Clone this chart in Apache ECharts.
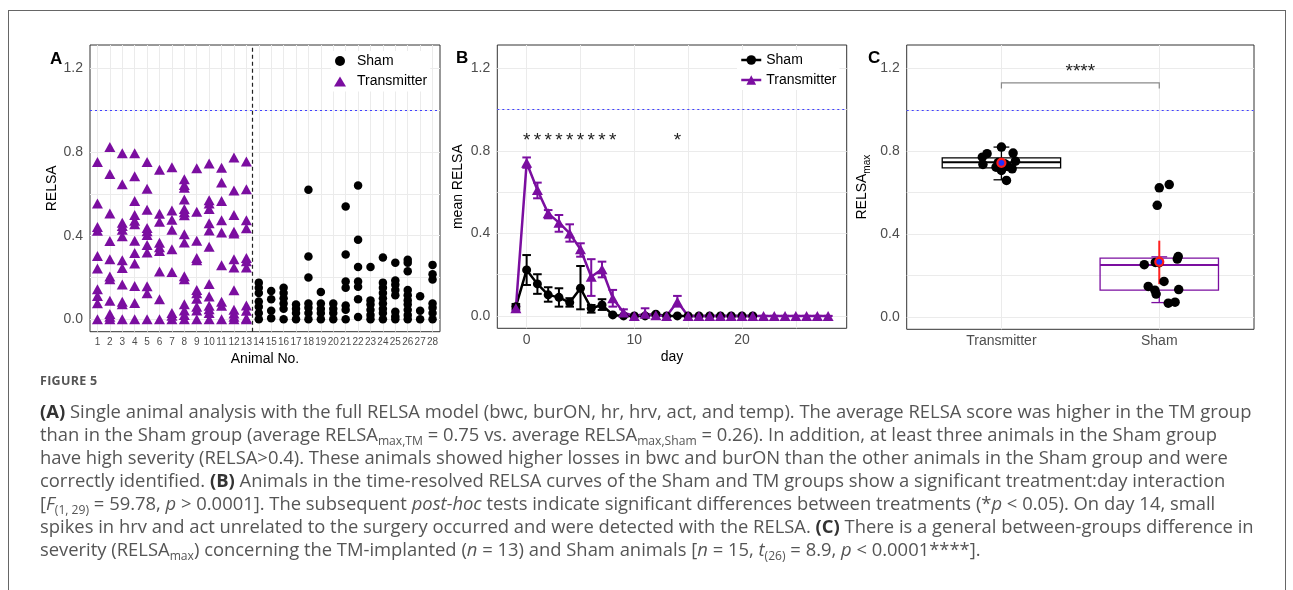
<!DOCTYPE html>
<html>
<head>
<meta charset="utf-8">
<script src="https://cdn.jsdelivr.net/npm/echarts@6/dist/echarts.min.js"></script>
<style>
  body { margin: 0; background: #fff; }
  #wrap { position: relative; width: 1293px; height: 590px; overflow: hidden; }
  #frame { position: absolute; left: 8px; top: 10px; width: 1276px; height: 640px; border: 1px solid #666; }
  #chart { position: absolute; left: 0; top: 0; width: 1293px; height: 590px; }
  #caption { position: absolute; left: 40px; top: 371px; font-family: "Open Sans", sans-serif; color: #555; font-size: 18.4px; line-height: 23px; white-space: nowrap; }
  #caption .fig { font-size: 12.5px; font-weight: bold; color: #555; letter-spacing: 0.3px; line-height: 20px; margin-bottom: 8px; }
  #caption b { color: #333; font-weight: bold; }
  #caption sub { font-size: 0.66em; vertical-align: -0.3em; line-height: 0; }
</style>
</head>
<body>
<div id="wrap">
  <div id="frame"></div>
  <div id="chart"></div>
  <div id="caption">
    <div class="fig">FIGURE 5</div>
    <div><b>(A)</b> Single animal analysis with the full RELSA model (bwc, burON, hr, hrv, act, and temp). The average RELSA score was higher in the TM group</div>
    <div>than in the Sham group (average RELSA<sub>max,TM</sub> = 0.75 vs. average RELSA<sub>max,Sham</sub> = 0.26). In addition, at least three animals in the Sham group</div>
    <div>have high severity (RELSA&gt;0.4). These animals showed higher losses in bwc and burON than the other animals in the Sham group and were</div>
    <div>correctly identified. <b>(B)</b> Animals in the time-resolved RELSA curves of the Sham and TM groups show a significant treatment:day interaction</div>
    <div>[<i>F</i><sub>(1, 29)</sub> = 59.78, <i>p</i> &gt; 0.0001]. The subsequent <i>post-hoc</i> tests indicate significant differences between treatments (*<i>p</i> &lt; 0.05). On day 14, small</div>
    <div>spikes in hrv and act unrelated to the surgery occurred and were detected with the RELSA. <b>(C)</b> There is a general between-groups difference in</div>
    <div>severity (RELSA<sub>max</sub>) concerning the TM-implanted (<i>n</i> = 13) and Sham animals [<i>n</i> = 15, <i>t</i><sub>(26)</sub> = 8.9, <i>p</i> &lt; 0.0001****].</div>
  </div>
</div>
<script>
// ---- panel A: single animal RELSA values ----
var tmAnimals = [1, 2, 3, 4, 5, 6, 7, 8, 9, 10, 11, 12, 13];
var tmRelsa = [
  [0.753, 0.554, 0.442, 0.423, 0.302, 0.243, 0.143, 0.111, 0.076, 0],
  [0.825, 0.695, 0.506, 0.374, 0.287, 0.204, 0.191, 0.088, 0.025, 0.012, 0],
  [0.795, 0.646, 0.462, 0.446, 0.428, 0.397, 0.282, 0.245, 0.166, 0.084, 0.072, 0],
  [0.795, 0.685, 0.566, 0.499, 0.471, 0.455, 0.376, 0.317, 0.267, 0.159, 0.078, 0],
  [0.753, 0.625, 0.524, 0.437, 0.421, 0.403, 0.355, 0.319, 0.158, 0.124, 0],
  [0.715, 0.505, 0.466, 0.366, 0.345, 0.326, 0.228, 0.096, 0],
  [0.727, 0.521, 0.476, 0.428, 0.335, 0.226, 0.029, 0.016, 0],
  [0.670, 0.642, 0.629, 0.573, 0.528, 0.512, 0.498, 0.407, 0.367, 0.205, 0.191, 0.072, 0.041, 0.020, 0],
  [0.723, 0.514, 0.375, 0.293, 0.282, 0.140, 0.124, 0.098, 0.060, 0.042, 0],
  [0.745, 0.570, 0.554, 0.528, 0.459, 0.425, 0.347, 0.168, 0.108, 0.064, 0.048, 0.030, 0],
  [0.725, 0.654, 0.566, 0.474, 0.415, 0.258, 0.084, 0.064, 0],
  [0.774, 0.616, 0.499, 0.419, 0.410, 0.287, 0.247, 0.138, 0.045, 0.027, 0.012, 0],
  [0.755, 0.622, 0.474, 0.435, 0.293, 0.277, 0.247, 0.065, 0.040, 0.005, 0]
];
var shamAnimals = [14, 15, 16, 17, 18, 19, 20, 21, 22, 23, 24, 25, 26, 27, 28];
var shamRelsa = [
  [0.175, 0.150, 0.125, 0.085, 0.060, 0.030, 0],
  [0.135, 0.095, 0.040, 0.005],
  [0.150, 0.125, 0.100, 0.075, 0.050, 0],
  [0.070, 0.050, 0.030, 0],
  [0.620, 0.300, 0.200, 0.075, 0.055, 0.030, 0],
  [0.130, 0.075, 0.050, 0.030, 0],
  [0.075, 0.050, 0.030, 0],
  [0.540, 0.310, 0.180, 0.150, 0.065, 0.045, 0],
  [0.640, 0.380, 0.250, 0.180, 0.155, 0.095, 0.010],
  [0.250, 0.090, 0.070, 0.045, 0.020, 0],
  [0.295, 0.175, 0.150, 0.125, 0.100, 0.075, 0.050, 0.030, 0],
  [0.270, 0.185, 0.165, 0.140, 0.115, 0.035, 0.013, 0],
  [0.285, 0.270, 0.230, 0.140, 0.115, 0.090, 0.070, 0.045, 0.020, 0],
  [0.110, 0.040, 0],
  [0.260, 0.215, 0.190, 0.075, 0.055, 0.030, 0]
];
var animalTicks = [1, 2, 3, 4, 5, 6, 7, 8, 9, 10, 11, 12, 13, 14, 15, 16, 17, 18, 19, 20, 21, 22, 23, 24, 25, 26, 27, 28];

// ---- panel B: mean RELSA per day ----
var shamDays = [-1, 0, 1, 2, 3, 4, 5, 6, 7, 8, 9, 10, 11, 12, 13, 14, 15, 16, 17, 18, 19, 20, 21];
var shamMean = [0.045, 0.223, 0.155, 0.102, 0.090, 0.065, 0.134, 0.037, 0.053, 0.005, 0, 0, 0, 0.008, 0, 0, 0, 0, 0, 0, 0, 0, 0];
var shamLo   = [0.032, 0.150, 0.107, 0.069, 0.045, 0.045, 0.032, 0.016, 0.029, 0.002, 0, 0, 0, 0.003, 0, 0, 0, 0, 0, 0, 0, 0, 0];
var shamHi   = [0.058, 0.295, 0.202, 0.139, 0.134, 0.086, 0.242, 0.053, 0.081, 0.010, 0, 0, 0, 0.013, 0, 0, 0, 0, 0, 0, 0, 0, 0];
var tmDays = [-1, 0, 1, 2, 3, 4, 5, 6, 7, 8, 9, 10, 11, 12, 13, 14, 15, 16, 17, 18, 19, 20, 21, 22, 23, 24, 25, 26, 27, 28];
var tmMean = [0.037, 0.742, 0.610, 0.497, 0.452, 0.400, 0.323, 0.190, 0.226, 0.086, 0.016, 0, 0.010, 0.003, 0, 0.069, 0, 0, 0, 0, 0, 0, 0, 0, 0, 0, 0, 0, 0, 0];
var tmLo   = [0.027, 0.718, 0.570, 0.473, 0.408, 0.360, 0.287, 0.097, 0.187, 0.045, 0.002, 0, 0, 0, 0, 0.045, 0, 0, 0, 0, 0, 0, 0, 0, 0, 0, 0, 0, 0, 0];
var tmHi   = [0.047, 0.768, 0.646, 0.513, 0.489, 0.444, 0.352, 0.275, 0.263, 0.126, 0.032, 0, 0.037, 0.006, 0, 0.097, 0, 0, 0, 0, 0, 0, 0, 0, 0, 0, 0, 0, 0, 0];
var sigDays = [0, 1, 2, 3, 4, 5, 6, 7, 8, 14];
var dayLabels = [0, 10, 20];
var dayGrid = [0, 5, 10, 15, 20, 25];

// ---- panel C: RELSA max ----
var groups = ['Transmitter', 'Sham'];
var groupPos = [1, 2];
var boxQ1 = [0.720, 0.129];
var boxMed = [0.747, 0.250];
var boxQ3 = [0.768, 0.284];
var whiskLo = [0.662, 0.069];
var whiskHi = [0.820, 0.290];
var meanVal = [0.744, 0.266];
var meanLo = [0.722, 0.158];
var meanHi = [0.768, 0.368];
var tmMax = [[1.0, 0.82], [0.909, 0.788], [1.074, 0.791], [0.879, 0.771], [0.883, 0.736], [0.966, 0.723], [1.042, 0.726],
  [1.089, 0.752], [1.068, 0.715], [1.0, 0.707], [1.032, 0.659], [0.98, 0.745], [1.02, 0.74]];
var shamMax = [[2.0, 0.623], [2.063, 0.639], [1.987, 0.539], [2.12, 0.291], [2.114, 0.279], [1.905, 0.252], [1.975, 0.263],
  [2.0, 0.262], [2.03, 0.171], [1.93, 0.147], [1.972, 0.129], [1.98, 0.110], [2.123, 0.132], [2.057, 0.066], [2.1, 0.071]];
var bracket = [1, 2, 1.130, 1.103];

var yLabels = [0, 0.4, 0.8, 1.2];
var yGrid = [0, 0.2, 0.4, 0.6, 0.8, 1.0, 1.2];
var refLine = 1.0;

var PURPLE = '#7b0ea0';
var GRIDC = '#ebebeb';
var FONT = 'Liberation Sans';

var chart = echarts.init(document.getElementById('chart'));

var tmPts = [];
tmAnimals.forEach(function (a, i) { tmRelsa[i].forEach(function (v) { tmPts.push([a, v]); }); });
var shamPts = [];
shamAnimals.forEach(function (a, i) { shamRelsa[i].forEach(function (v) { shamPts.push([a, v]); }); });

function pairs(xs, ys) { return xs.map(function (x, i) { return [x, ys[i]]; }); }

function yAxis(idx, name, gap) {
  return {
    type: 'value', gridIndex: idx, min: -0.06, max: 1.313,
    name: name, nameLocation: 'middle', nameGap: gap,
    nameTextStyle: { color: '#000', fontSize: 14, fontFamily: FONT,
      rich: { m: { fontSize: 14, fontFamily: FONT, color: '#000', verticalAlign: 'top', lineHeight: 18 },
              s: { fontSize: 10, fontFamily: FONT, color: '#000', verticalAlign: 'bottom', lineHeight: 18 } } },
    axisLine: { show: false },
    axisTick: { show: false, customValues: yGrid },
    axisLabel: { customValues: yLabels, color: '#4d4d4d', fontSize: 14, fontFamily: FONT, margin: 7,
      formatter: function (v) { return v.toFixed(1); } },
    splitLine: { show: true, lineStyle: { color: GRIDC, width: 1 } }
  };
}

function errorBars(idx, days, lo, hi, color, cap) {
  return {
    type: 'custom', xAxisIndex: idx, yAxisIndex: idx, silent: true,
    data: days.map(function (d, i) { return [d, lo[i], hi[i]]; }),
    encode: { x: 0, y: [1, 2] },
    renderItem: function (params, api) {
      var x = api.value(0);
      var t = api.coord([x, api.value(2)]);
      var b = api.coord([x, api.value(1)]);
      var h = api.size([cap, 0])[0] / 2;
      var st = { stroke: color, lineWidth: 2 };
      return { type: 'group', children: [
        { type: 'line', shape: { x1: t[0], y1: t[1], x2: b[0], y2: b[1] }, style: st },
        { type: 'line', shape: { x1: t[0] - h, y1: t[1], x2: t[0] + h, y2: t[1] }, style: st },
        { type: 'line', shape: { x1: b[0] - h, y1: b[1], x2: b[0] + h, y2: b[1] }, style: st }
      ] };
    }
  };
}

function refMark() {
  return { silent: true, symbol: 'none', label: { show: false },
    lineStyle: { color: '#4040ff', type: [2, 3], width: 1.2 }, data: [{ yAxis: refLine }] };
}

var option = {
  animation: false,
  textStyle: { fontFamily: FONT },
  title: [
    { text: 'A', left: 45, top: 46, textStyle: { fontSize: 17, fontWeight: 'bold', color: '#000', fontFamily: FONT } },
    { text: 'B', left: 451, top: 45, textStyle: { fontSize: 17, fontWeight: 'bold', color: '#000', fontFamily: FONT } },
    { text: 'C', left: 863, top: 45, textStyle: { fontSize: 17, fontWeight: 'bold', color: '#000', fontFamily: FONT } }
  ],
  legend: [
    { data: ['Sham', 'Transmitter'], orient: 'vertical', left: 331, top: 51, itemWidth: 12, itemHeight: 10, itemGap: 6.6,
      padding: 3, backgroundColor: '#fff', selectedMode: false,
      textStyle: { fontSize: 14, color: '#000', fontFamily: FONT, padding: [0, 0, 0, 6] } },
    { data: ['ShamB', 'TransmitterB'], orient: 'vertical', left: 737, top: 50, itemWidth: 20, itemHeight: 12, itemGap: 6,
      padding: 3, backgroundColor: '#fff', selectedMode: false,
      lineStyle: { width: 2.5 },
      formatter: function (n) { return n.replace(/B$/, ''); },
      textStyle: { fontSize: 14, color: '#000', fontFamily: FONT } }
  ],
  grid: [
    { left: 90, top: 45, width: 350, height: 286.7, show: true, borderColor: '#333', borderWidth: 1 },
    { left: 497.3, top: 45, width: 349.4, height: 283.3, show: true, borderColor: '#333', borderWidth: 1 },
    { left: 906.7, top: 45, width: 347.3, height: 284.3, show: true, borderColor: '#333', borderWidth: 1 }
  ],
  xAxis: [
    { type: 'value', gridIndex: 0, min: 0.4, max: 28.6,
      name: 'Animal No.', nameLocation: 'middle', nameGap: 20,
      nameTextStyle: { color: '#000', fontSize: 14, fontFamily: FONT },
      axisLine: { show: false },
      axisTick: { show: false, customValues: animalTicks },
      axisLabel: { customValues: animalTicks, color: '#4d4d4d', fontSize: 10, fontFamily: FONT, margin: 6 },
      splitLine: { show: true, lineStyle: { color: GRIDC, width: 1 } } },
    { type: 'value', gridIndex: 1, min: -2.725, max: 29.725,
      name: 'day', nameLocation: 'middle', nameGap: 22,
      nameTextStyle: { color: '#000', fontSize: 14, fontFamily: FONT },
      axisLine: { show: false },
      axisTick: { show: false, customValues: dayGrid },
      axisLabel: { customValues: dayLabels, color: '#4d4d4d', fontSize: 14, fontFamily: FONT, margin: 5 },
      splitLine: { show: true, lineStyle: { color: GRIDC, width: 1 } } },
    { type: 'value', gridIndex: 2, min: 0.4, max: 2.6,
      axisLine: { show: false },
      axisTick: { show: false, customValues: groupPos },
      axisLabel: { customValues: groupPos, color: '#4d4d4d', fontSize: 14, fontFamily: FONT, margin: 5,
        formatter: function (v) { return groups[Math.round(v) - 1]; } },
      splitLine: { show: true, lineStyle: { color: GRIDC, width: 1 } } }
  ],
  yAxis: [
    yAxis(0, 'RELSA', 29),
    yAxis(1, 'mean RELSA', 32),
    yAxis(2, '{m|RELSA}{s|max}', 34)
  ],
  series: [
    // A
    { type: 'scatter', name: 'Sham', xAxisIndex: 0, yAxisIndex: 0, symbol: 'circle', symbolSize: 8.5,
      itemStyle: { color: '#000', opacity: 1 }, data: shamPts,
      markLine: { silent: true, symbol: 'none', label: { show: false },
        lineStyle: { color: '#222', type: [4, 3], width: 1.2 }, data: [{ xAxis: 13.5 }] } },
    { type: 'scatter', name: 'Transmitter', xAxisIndex: 0, yAxisIndex: 0, symbol: 'triangle', symbolSize: [11, 10],
      itemStyle: { color: PURPLE, opacity: 1 }, data: tmPts, markLine: refMark() },
    // B
    errorBars(1, shamDays, shamLo, shamHi, '#000', 0.8),
    { type: 'line', name: 'ShamB', xAxisIndex: 1, yAxisIndex: 1, symbol: 'circle', symbolSize: 9,
      lineStyle: { color: '#000', width: 2.5 }, itemStyle: { color: '#000' }, data: pairs(shamDays, shamMean),
      markLine: refMark() },
    errorBars(1, tmDays, tmLo, tmHi, PURPLE, 0.8),
    { type: 'line', name: 'TransmitterB', xAxisIndex: 1, yAxisIndex: 1, symbol: 'triangle', symbolSize: [11, 10],
      lineStyle: { color: PURPLE, width: 2.5 }, itemStyle: { color: PURPLE }, data: pairs(tmDays, tmMean) },
    { type: 'custom', xAxisIndex: 1, yAxisIndex: 1, silent: true,
      data: sigDays.map(function (d) { return [d, 0.85]; }),
      renderItem: function (params, api) {
        var p = api.coord([api.value(0), api.value(1)]);
        return { type: 'text', x: p[0], y: p[1],
          style: { text: '*', fontSize: 19, fontFamily: FONT, fill: '#222', align: 'center', verticalAlign: 'middle' } };
      } },
    // C
    { type: 'custom', xAxisIndex: 2, yAxisIndex: 2, silent: true,
      data: groupPos.map(function (p, i) { return [p, boxQ1[i], boxMed[i], boxQ3[i], whiskLo[i], whiskHi[i], i]; }),
      renderItem: function (params, api) {
        var x = api.value(0);
        var col = api.value(6) === 0 ? '#000' : PURPLE;
        var hw = api.size([0.75, 0])[0] / 2;
        var cw = api.size([0.1, 0])[0] / 2;
        var q1 = api.coord([x, api.value(1)]), md = api.coord([x, api.value(2)]), q3 = api.coord([x, api.value(3)]);
        var lo = api.coord([x, api.value(4)]), hi = api.coord([x, api.value(5)]);
        var st = { stroke: col, lineWidth: 1.3, fill: null };
        return { type: 'group', children: [
          { type: 'line', shape: { x1: q3[0], y1: q3[1], x2: hi[0], y2: hi[1] }, style: st },
          { type: 'line', shape: { x1: q1[0], y1: q1[1], x2: lo[0], y2: lo[1] }, style: st },
          { type: 'line', shape: { x1: hi[0] - cw, y1: hi[1], x2: hi[0] + cw, y2: hi[1] }, style: st },
          { type: 'line', shape: { x1: lo[0] - cw, y1: lo[1], x2: lo[0] + cw, y2: lo[1] }, style: st },
          { type: 'rect', shape: { x: q3[0] - hw, y: q3[1], width: hw * 2, height: q1[1] - q3[1] }, style: st },
          { type: 'line', shape: { x1: md[0] - hw, y1: md[1], x2: md[0] + hw, y2: md[1] }, style: { stroke: col, lineWidth: 2 } }
        ] };
      } },
    { type: 'scatter', xAxisIndex: 2, yAxisIndex: 2, symbol: 'circle', symbolSize: 9.5, silent: true,
      itemStyle: { color: '#000', opacity: 1 }, data: tmMax.concat(shamMax), markLine: refMark() },
    errorBars(2, groupPos, meanLo, meanHi, '#ff2020', 0),
    { type: 'scatter', xAxisIndex: 2, yAxisIndex: 2, symbol: 'circle', symbolSize: 8, silent: true,
      itemStyle: { color: '#2030ff', borderColor: '#ff1a1a', borderWidth: 2.2, opacity: 1 }, data: pairs(groupPos, meanVal) },
    { type: 'custom', xAxisIndex: 2, yAxisIndex: 2, silent: true,
      data: [bracket],
      renderItem: function (params, api) {
        var a = api.coord([api.value(0), api.value(3)]);
        var b = api.coord([api.value(0), api.value(2)]);
        var c = api.coord([api.value(1), api.value(2)]);
        var d = api.coord([api.value(1), api.value(3)]);
        var m = api.coord([(api.value(0) + api.value(1)) / 2, api.value(2)]);
        return { type: 'group', children: [
          { type: 'polyline', shape: { points: [a, b, c, d] }, style: { stroke: '#8a8a8a', lineWidth: 1.2, fill: null } },
          { type: 'text', x: m[0], y: m[1] - 2,
            style: { text: '****', fontSize: 19, fontFamily: FONT, fill: '#222', align: 'center', verticalAlign: 'bottom' } }
        ] };
      } }
  ]
};

chart.setOption(option);
</script>
</body>
</html>
